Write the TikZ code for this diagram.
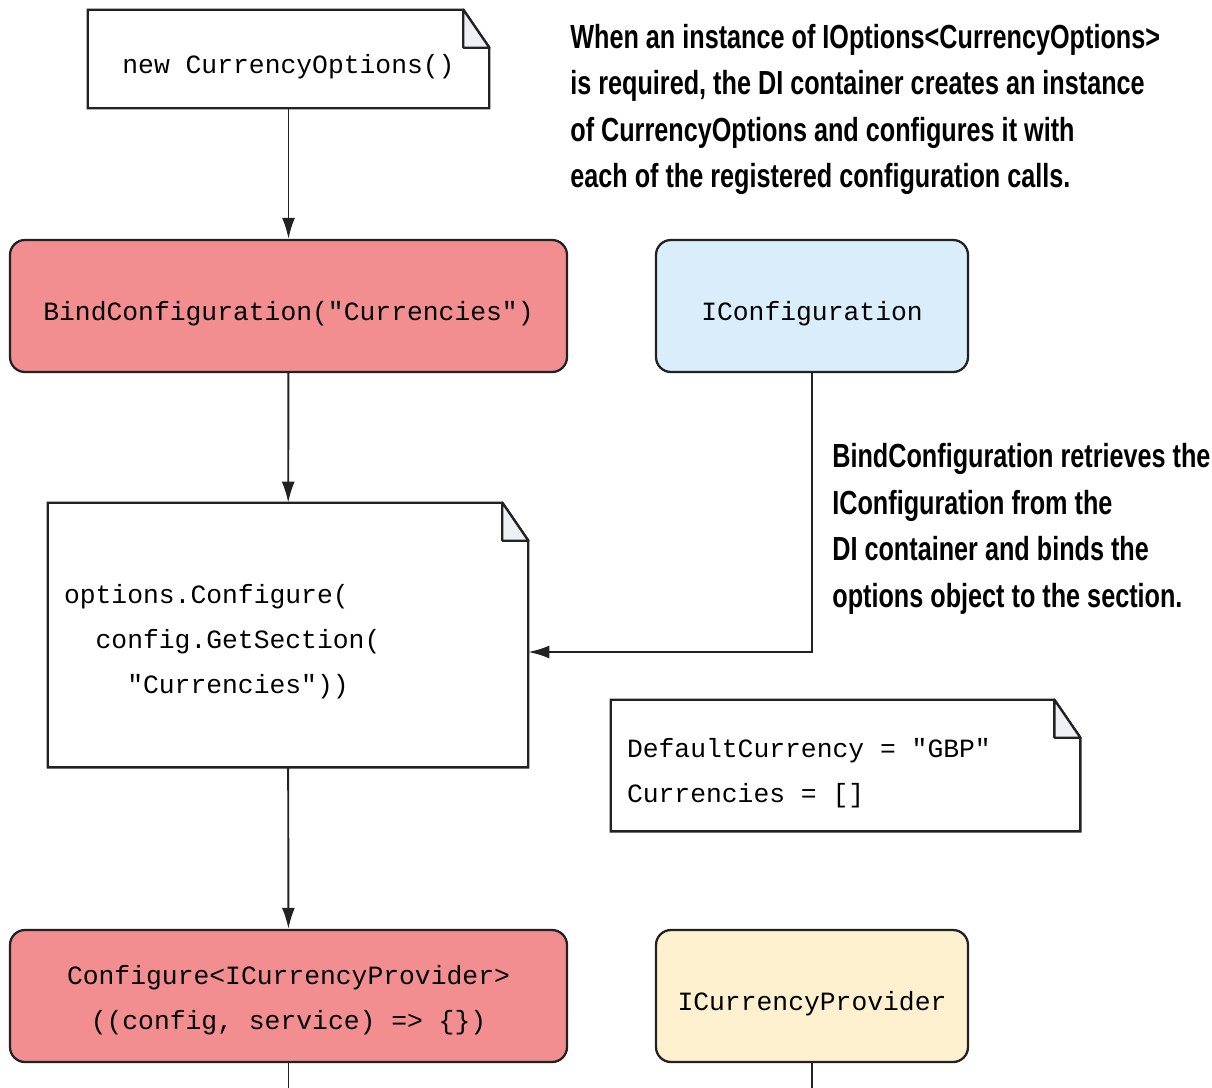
\documentclass[tikz,border=0pt]{standalone}
\usepackage{fontspec}
\usepackage{tikz}
\usetikzlibrary{arrows.meta}
\setmonofont{Liberation Mono}
\newfontfamily\calloutfont[FakeStretch=0.755]{Liberation Sans}

\definecolor{bindred}{HTML}{F28E8F}
\definecolor{cfgblue}{HTML}{D9EEFA}
\definecolor{provyellow}{HTML}{FDF0CF}
\definecolor{foldgray}{HTML}{EEF0F4}
\definecolor{edgegray}{HTML}{222222}

\newcommand\fullspaces{\spaceskip 0pt\xspaceskip 0pt\relax}

\tikzset{
    codebox/.style={
        draw=edgegray,
        line width=1.3pt,
        rounded corners=0.3cm,
        inner sep=0pt,
        align=center,
        font=\ttfamily\fontsize{15}{25.6}\selectfont
    },
    notebox/.style={
        inner sep=0pt,
        inner xsep=0.32cm,
        font=\ttfamily\fontsize{15}{25.6}\selectfont
    },
    oneline/.style={text height=16pt, text depth=0pt},
    callout/.style={
        inner sep=0pt,
        anchor=north west,
        align=left,
        font=\calloutfont\bfseries\fontsize{19}{26.5}\selectfont
    },
    flow/.style={
        draw=edgegray,
        line width=1.1pt,
        -{Latex[length=0.42cm,width=0.26cm]}
    },
    tail/.style={draw=edgegray, line width=1.1pt}
}

\newcommand\dogear[1]{%
    \draw[line width=1.3pt, edgegray]
        (#1.north west) -- ([xshift=-0.52cm]#1.north east)
        -- ([yshift=-0.76cm]#1.north east) -- (#1.south east)
        -- (#1.south west) -- cycle;
    \draw[line width=1.3pt, edgegray, fill=foldgray, line join=round]
        ([xshift=-0.52cm]#1.north east) -- ([xshift=-0.52cm,yshift=-0.76cm]#1.north east)
        -- ([yshift=-0.76cm]#1.north east) -- cycle;
}

\begin{document}
\begin{tikzpicture}
\useasboundingbox (0,0) rectangle (24.24,-21.76);

\node[notebox, oneline, minimum width=8.02cm, minimum height=1.96cm] (newopts) at (5.77,-1.18) {new CurrencyOptions()};
\dogear{newopts}

\node[codebox, oneline, fill=bindred, minimum width=11.14cm, minimum height=2.64cm] (bindcfg) at (5.77,-6.12) {BindConfiguration("Currencies")};
\node[codebox, oneline, fill=cfgblue, minimum width=6.24cm, minimum height=2.64cm] (iconfig) at (16.24,-6.12) {IConfiguration};

\node[notebox, minimum width=9.6cm, minimum height=5.28cm, text width=8.96cm, align=left] (optcfg) at (5.76,-12.7) {\fullspaces\rule{0pt}{18.3pt}options.Configure(\\
\phantom{xx}config.GetSection(\\
\phantom{xxxx}"Currencies"))};
\dogear{optcfg}

\node[notebox, minimum width=9.38cm, minimum height=2.62cm, text width=8.74cm, align=left] (defaults) at (16.91,-15.31) {\fullspaces\rule{0pt}{19.5pt}DefaultCurrency = "GBP"\\
Currencies = []};
\dogear{defaults}

\node[codebox, fill=bindred, minimum width=11.14cm, minimum height=2.64cm] (cfgprov) at (5.77,-19.92) {\rule{0pt}{16.1pt}Configure<ICurrencyProvider>\\
((config, service) => \{\})};
\node[codebox, oneline, fill=provyellow, minimum width=6.24cm, minimum height=2.64cm] (icurprov) at (16.24,-19.92) {ICurrencyProvider};

\node[callout] (note-di) at (11.4,-0.47) {When an instance of IOptions<CurrencyOptions>\\
is required, the DI container creates an instance\\
of CurrencyOptions and configures it with\\
each of the registered configuration calls.};
\node[callout] (note-bind) at (16.64,-8.86) {BindConfiguration retrieves the\\
IConfiguration from the\\
DI container and binds the\\
options object to the section.};

\coordinate (bottom) at (0,-21.76);

\draw[flow] (newopts) -- (bindcfg);
\draw[flow] (bindcfg) -- (optcfg);
\draw[flow] (optcfg) -- (cfgprov);
\draw[flow] (iconfig.south) |- ([yshift=-0.34cm]optcfg.east);
\draw[tail] (cfgprov.south) -- (cfgprov.south |- bottom);
\draw[tail] (icurprov.south) -- (icurprov.south |- bottom);
\end{tikzpicture}
\end{document}
